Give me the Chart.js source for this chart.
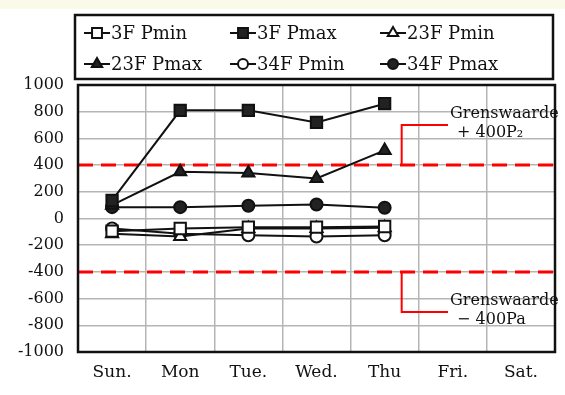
<!DOCTYPE html>
<html>
<head>
<meta charset="utf-8">
<script src="https://cdn.jsdelivr.net/npm/chart.js@4/dist/chart.umd.min.js"></script>
<style>
  body { margin: 0; background: linear-gradient(#fafae9 0, #fafae9 9px, #ffffff 9px); }
  canvas { display: block; }
</style>
</head>
<body>
<canvas id="myChart" width="565" height="395"></canvas>
<script>
// categories and series (Pa)
const days = ['Sun.', 'Mon', 'Tue.', 'Wed.', 'Thu', 'Fri.', 'Sat.'];
const p3Fmin  = [-95, -75, -65, -65, -60, null, null];
const p3Fmax  = [135, 810, 810, 720, 860, null, null];
const p23Fmin = [-115, -135, -75, -75, -70, null, null];
const p23Fmax = [100, 350, 340, 300, 510, null, null];
const p34Fmin = [-75, -115, -125, -135, -125, null, null];
const p34Fmax = [85, 85, 95, 105, 80, null, null];
const limits = [400, -400];
const limitLabels = [['Grenswaarde', '+ 400P\u2082'], ['Grenswaarde', '\u2212 400Pa']];
const yTicks = [1000, 800, 600, 400, 200, 0, -200, -400, -600, -800, -1000];

const serif = '"DejaVu Serif", serif';

function series(label, data, style, filled, r) {
  return {
    label: label,
    data: data,
    borderColor: '#111',
    borderWidth: 2,
    pointStyle: style,
    pointRadius: r,
    pointHoverRadius: r,
    pointBorderWidth: 2,
    pointBorderColor: '#111',
    pointBackgroundColor: filled ? '#222' : '#fff',
    backgroundColor: filled ? '#222' : '#fff',
    tension: 0,
    spanGaps: false
  };
}

// frame, red limit lines and their callouts
const limitPlugin = {
  id: 'limits',
  beforeDatasetsDraw(chart) {
    const { ctx, chartArea: a, scales: { x, y } } = chart;
    ctx.save();
    ctx.strokeStyle = '#ff0000';
    ctx.lineWidth = 3;
    ctx.setLineDash([15, 8]);
    limits.forEach(v => {
      const py = y.getPixelForValue(v);
      ctx.beginPath();
      ctx.moveTo(a.left, py);
      ctx.lineTo(a.right, py);
      ctx.stroke();
    });
    ctx.setLineDash([]);
    ctx.lineWidth = 2;
    limits.forEach(v => {
      const py = y.getPixelForValue(v);
      const py2 = y.getPixelForValue(v > 0 ? 700 : -700);
      const x1 = x.getPixelForValue(4.25);
      const x2 = x.getPixelForValue(4.93);
      ctx.beginPath();
      ctx.moveTo(x1, py);
      ctx.lineTo(x1, py2);
      ctx.lineTo(x2, py2);
      ctx.stroke();
    });
    ctx.strokeStyle = '#111';
    ctx.lineWidth = 2.5;
    ctx.strokeRect(a.left, a.top, a.right - a.left, a.bottom - a.top);
    ctx.restore();
  },
  afterDraw(chart) {
    const { ctx, scales: { x, y } } = chart;
    ctx.save();
    ctx.fillStyle = '#111';
    ctx.font = '16px ' + serif;
    ctx.textBaseline = 'middle';
    limits.forEach((v, i) => {
      const py2 = y.getPixelForValue(v > 0 ? 700 : -700);
      const px = x.getPixelForValue(4.96);
      ctx.textAlign = 'left';
      ctx.fillText(limitLabels[i][0], px, py2 - 11);
      ctx.fillText(limitLabels[i][1], px + 7, py2 + 8);
    });
    ctx.restore();
  }
};

// boxed legend, 3 columns x 2 rows
const legendPlugin = {
  id: 'boxLegend',
  afterDraw(chart) {
    const { ctx } = chart;
    const cols = [84, 230, 380];
    const rows = [33, 64];
    ctx.save();
    ctx.strokeStyle = '#111';
    ctx.lineWidth = 2.5;
    ctx.strokeRect(75, 15, 478, 64);
    chart.data.datasets.forEach((ds, i) => {
      const cx = cols[i % 3];
      const cy = rows[Math.floor(i / 3)];
      ctx.strokeStyle = '#111';
      ctx.lineWidth = 2;
      ctx.beginPath();
      ctx.moveTo(cx, cy);
      ctx.lineTo(cx + 26, cy);
      ctx.stroke();
      ctx.fillStyle = ds.pointBackgroundColor;
      Chart.helpers.drawPoint(ctx, { pointStyle: ds.pointStyle, radius: ds.pointRadius - 1, borderWidth: 2 }, cx + 13, cy);
      ctx.fillStyle = '#111';
      ctx.font = '18px ' + serif;
      ctx.textAlign = 'left';
      ctx.textBaseline = 'middle';
      ctx.fillText(ds.label, cx + 27, cy + 1);
    });
    ctx.restore();
  }
};

const ctx = document.getElementById('myChart').getContext('2d');
const myChart = new Chart(ctx, {
  type: 'line',
  data: {
    labels: days,
    datasets: [
      series('3F Pmin', p3Fmin, 'rect', false, 8),
      series('3F Pmax', p3Fmax, 'rect', true, 8),
      series('23F Pmin', p23Fmin, 'triangle', false, 7),
      series('23F Pmax', p23Fmax, 'triangle', true, 7),
      series('34F Pmin', p34Fmin, 'circle', false, 6),
      series('34F Pmax', p34Fmax, 'circle', true, 6)
    ]
  },
  options: {
    responsive: false,
    animation: false,
    layout: { padding: { top: 85, right: 10, left: 0, bottom: 0 } },
    plugins: {
      legend: { display: false },
      tooltip: { enabled: false }
    },
    scales: {
      x: {
        offset: true,
        grid: { offset: true, color: '#b5b5b5', lineWidth: 1.5, drawTicks: false },
        border: { display: false },
        ticks: { color: '#111', padding: 10, font: { family: serif, size: 17 } },
        afterFit(scale) { scale.height = 43; }
      },
      y: {
        min: -1000,
        max: 1000,
        afterBuildTicks(scale) { scale.ticks = yTicks.map(v => ({ value: v })); },
        grid: { color: '#b5b5b5', lineWidth: 1.5, drawTicks: false },
        border: { display: false },
        ticks: { color: '#111', padding: 14, font: { family: serif, size: 16 }, callback: v => String(v) },
        afterFit(scale) { scale.width = 78; }
      }
    }
  },
  plugins: [limitPlugin, legendPlugin]
});
</script>
</body>
</html>
